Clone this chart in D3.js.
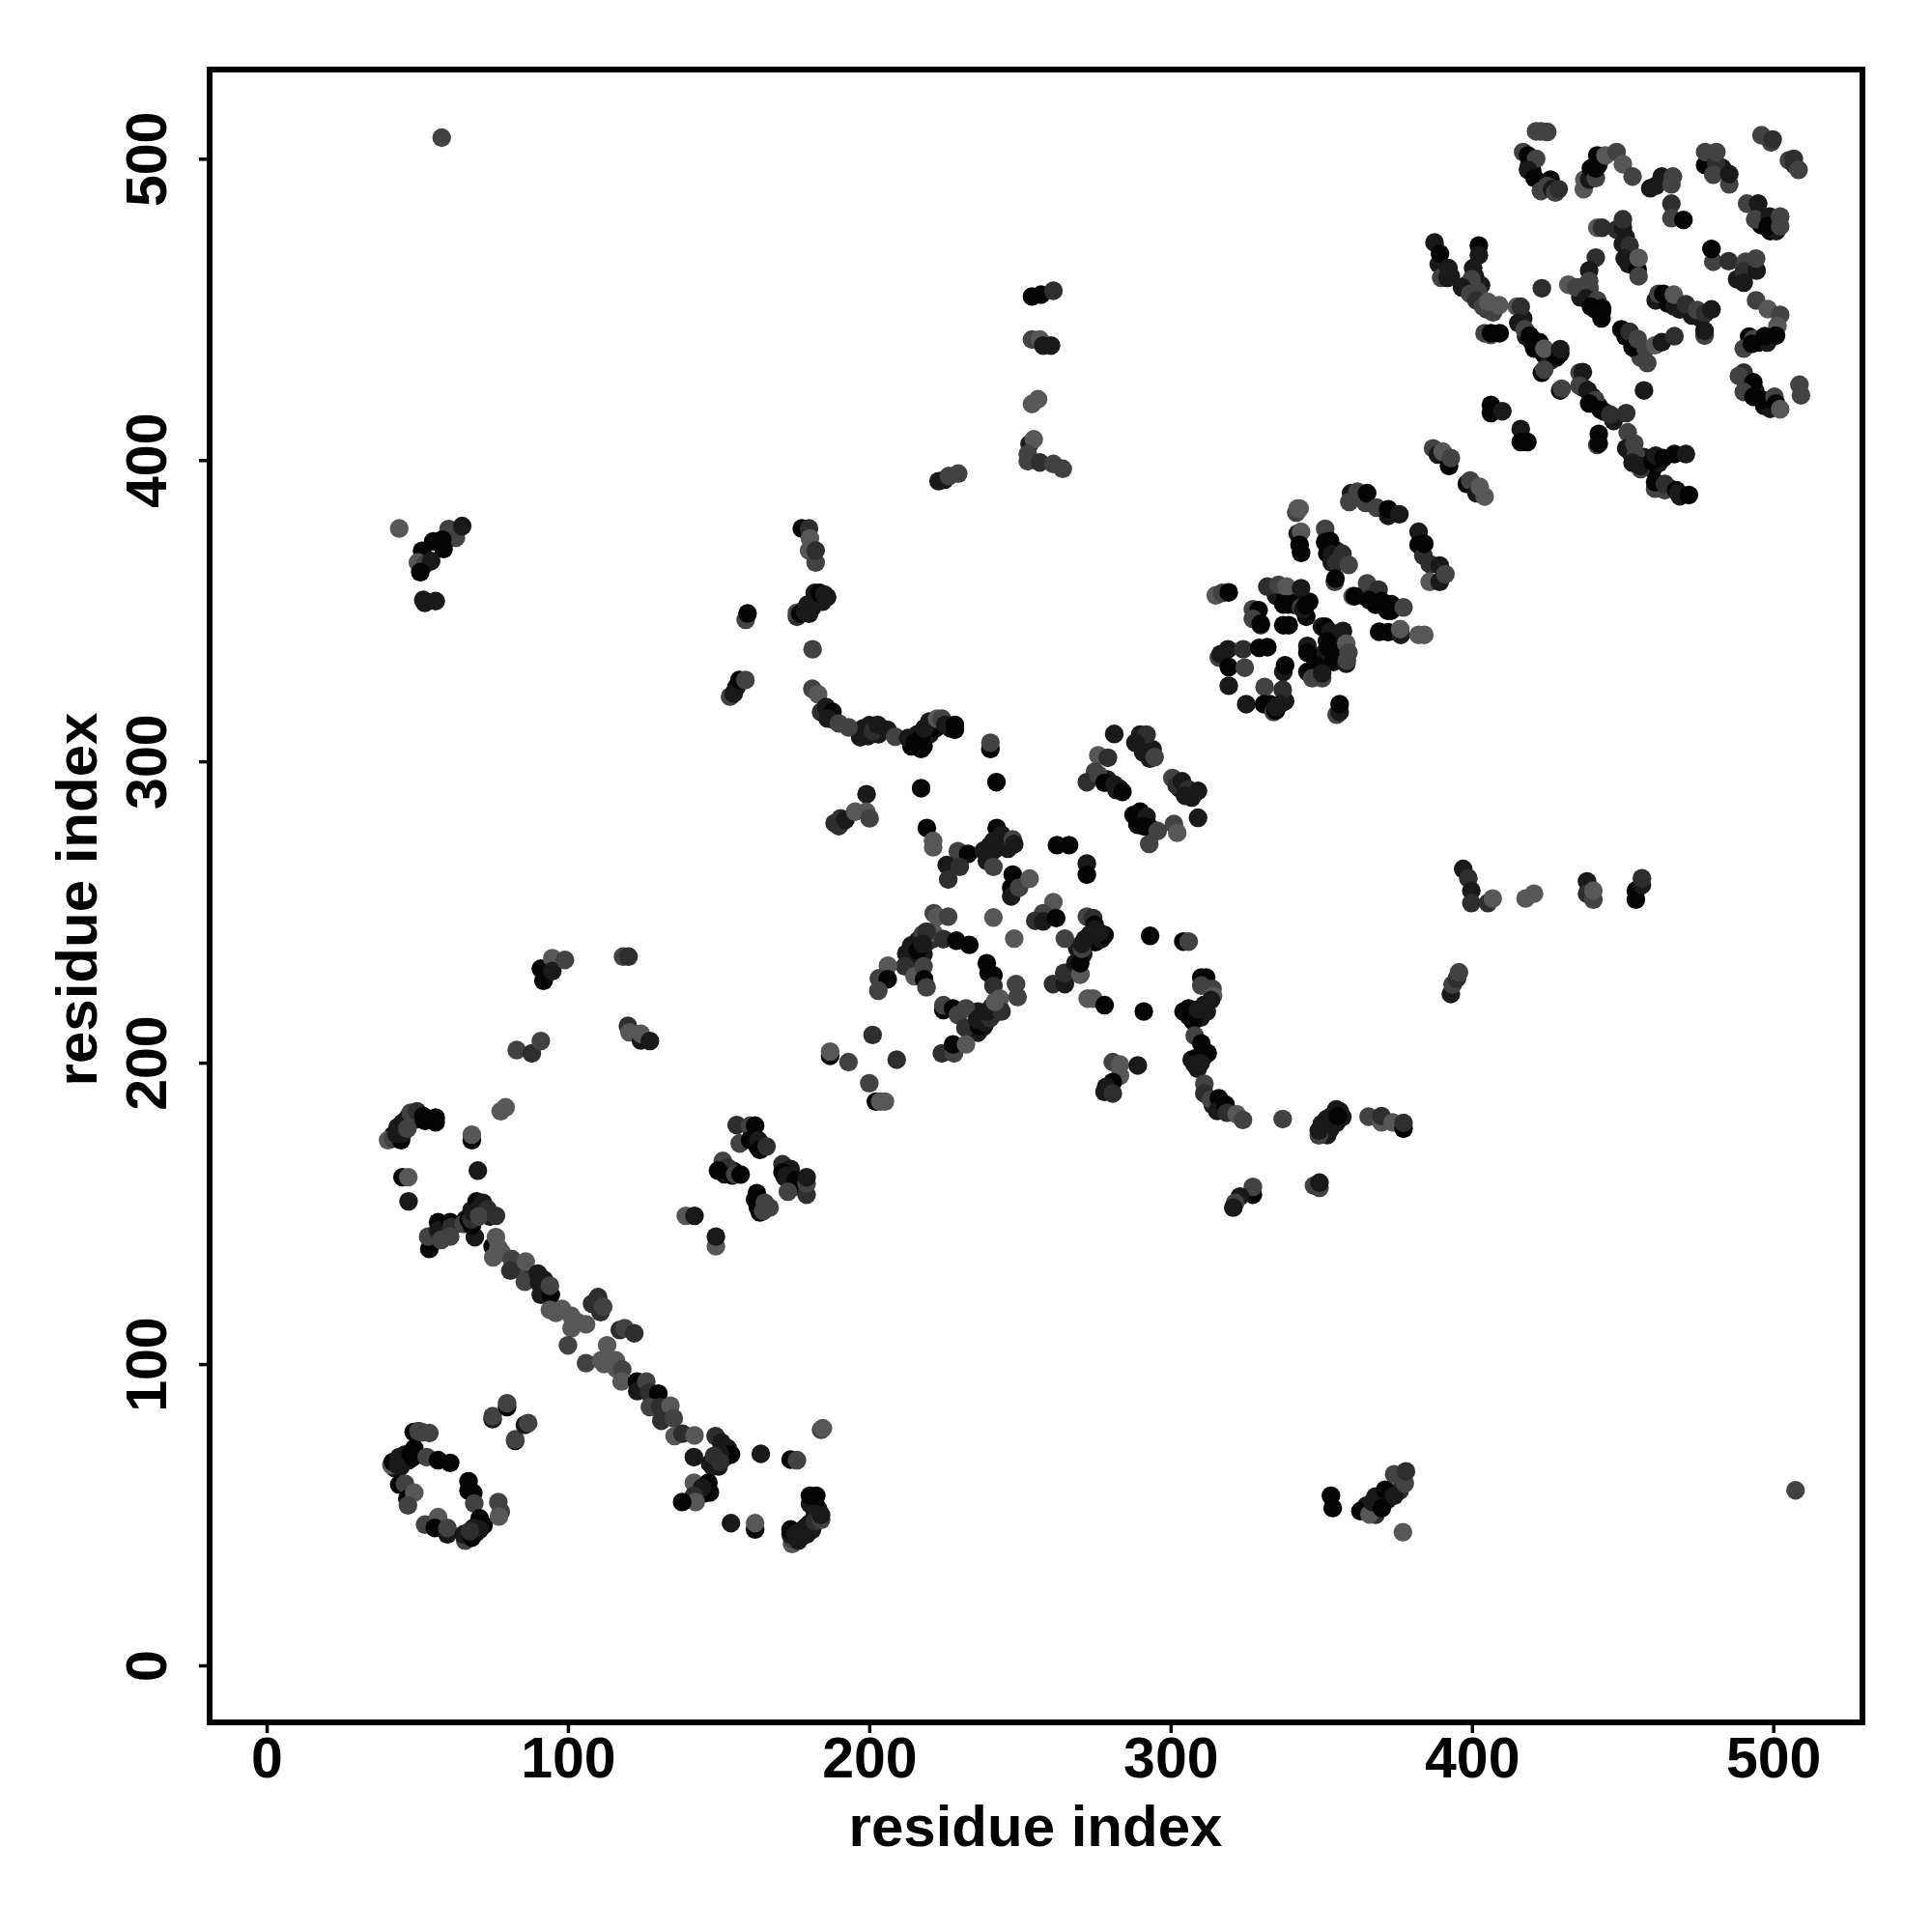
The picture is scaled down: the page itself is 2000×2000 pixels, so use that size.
<!DOCTYPE html>
<html>
<head>
<meta charset="utf-8">
<script src="https://cdnjs.cloudflare.com/ajax/libs/d3/7.8.5/d3.min.js"></script>
<style>
  body { margin: 0; background: #fff; }
  text { font-family: "Liberation Sans", sans-serif; font-weight: bold; fill: #000; }
</style>
</head>
<body>
<svg class="svgChart"></svg>
<script>
var tickValues = [0, 100, 200, 300, 400, 500];
var axisLabel = "residue index";

// contacts: [residue x, residue y, shade level 0 (black) .. 5 (light)]
// the ones hidden inside the dense blobs, drawn first
var packedContacts = [
[42.5,65.5,1],[44.5,66,1],[46,70,1],[47,68,1],[49,72,0],[66.5,43,1],[69.5,44,1],[71,47,1],[72,46.5,0],
[176,348,2],[178,350,1],[179.5,352,1],[181,351,1],[183,353,1],[184.5,353,1],[186,354.5,1],[197,308,1],[198,311,1],[200,312,1],[203,309,1],[204,311,1],[214,305,0],[216,309,1],[218,305,0],[220,309,1],[222,311,0],[227,311,0],[186,316,1],[188,314,1],
[175,42,1],[176,43,1],[178,43,1],[179,46,1],[181,45,1],[182,50,1],[183,52,1],[182,54,0],[148,66,1],[150,66,1],[152,69,1],[153,72,1],[151,72,1],[145,57,0],[146,59,1],
[78,137,4],[83,132,3],[88,129,2],[92,124,1],[92,128,1],[96,117,4],[103,114,4],[108,120,2],[112,100,4],[125,92,1],[128,88,2],[133,84,2],
[42,176,1],[45,180,1],[47,182,1],[49,181,1],[54,181,0],[66,148,1],[68,151,1],[70,153,1],[72,150,1],[74,149,1],[58,145,1],[60,145,1],[62,146,1],
[161,176,0],[163,172,0],[152,163,1],[155,164,0],[172,162,1],[174,162,0],[176,159,1],[163,152,0],[165,152,1],
[214,235,1],[216,234,1],[218,236,1],[219,240,1],[221,241,2],[215,231,1],[213,233,1],[236,217,1],[236,210,1],[238,212,1],[241,216,1],[243,219,2],[269,238,1],[271,236,1],[273,240,1],[275,240,0],[277,241,1],[243,276,1],[245,273,1],[240,272,1],[242,271,1],[239,267,1],[246,271,1],
[306,218,0],[308,216,1],[310,215,1],[312,217,1],[307,201,1],[309,198,1],[311,202,1],[314,186,1],[317,185,1],[351,178,1],[353,178,1],[355,180,1],[357,182,1],[352,176,1],[365,53,1],[368,56,1],[372,55,1],[376,58,2],[368,50,2],
[290,306,0],[292,304,1],[294,304,1],[283,291,1],[279,294,1],[303,291,1],[307,288,1],[289,279,0],[292,280,0],[295,277,1],[355,370,1],[356,367,1],[352,369,0],[364,355,1],[368,352,0],[372,350,0],[343,353,1],[341,352,0],[335,355,1],[338,355,0],[346,353,0],[345,348,0],[353,341,0],[356,337,0],[355,341,1],[351,336,1],[352,333,1],[354,333,0],[348,332,0],[335,317,1],[333,319,0],[338,320,1],
[389,465,1],[393,461,1],[401,461,1],[403,458,1],[405,450,2],[407,449,3],[398,458,2],[402,456,3],[418,441,1],[420,439,0],[424,435,0],[426,433,1],[428,434,0],[417,447,1],[437,424,0],[440,421,1],[442,418,0],[444,416,1],[447,413,1],[453,402,1],[455,400,0],[457,401,1],[460,397,0],[462,399,1],[465,391,0],[469,388,1],[456,397,3],[464,390,3],
[441,450,0],[436,454,1],[439,457,3],[443,447,0],[451,441,0],[454,437,0],[456,434,3],[461,453,1],[465,452,0],[469,450,1],[473,448,1],[476,447,1],[451,474,1],[452,465,1],[453,467,0],[488,460,1],[492,441,0],[495,439,0],[498,439,1],[491,424,1],[494,423,1],[497,418,0],[499,417,1],[419,498,1],[420,496,0],[423,492,0],[424,490,1],[440,495,0],[442,498,1],[479,500,1],[483,497,1],[496,478,0],[499,476,0],[501,476,1]
];
var ringLower = [
[50.4,77.7,0],[48.8,77.4,0],[50.4,77.7,3],[51.5,77.4,3],[54,77.1,3],[41.4,66.5,4],[41.9,67.5,0],[44,69.1,1],[43.5,66.5,1],[45.6,68.1,1],[47.8,70.2,0],[48.5,69,0],[53.1,69.1,3],[56.9,68.1,0],[60.9,67.2,0],
[44,60,0],[45.9,60.3,3],[46.7,55.2,0],[49,57.3,4],[46.9,53.1,3],[67,61.1,0],[68.6,57.2,0],[67,58,0],[68.9,53.7,3],[70.7,48.8,0],[76.9,54.2,3],[77.7,51,3],[77.1,49.4,4],[52.6,46.7,3],[56.9,49.2,4],[55.8,45.6,0],[60,43.5,1],[60,45.6,3],
[65.9,41.4,3],[65.4,43.5,1],[68.1,42.4,0],[68.6,45.6,1],[70.7,45.1,1],[67.5,44.5,2],
[75,81.7,1],[75,82.7,3],[79.8,85.7,0],[79.8,87,3],[82.5,74.5,1],[82.5,75,3],[85.7,79.8,1],[86.8,80.4,3]
];
var bridge = [
[75,139,0],[76.1,142.1,4],[76.9,138.6,4],[75.2,135.4,4],[81.4,134.8,3],[80.9,131,2],[86,134,4],[85.7,127.3,3],[90,130,1],[90.5,126.8,1],[91,123,1],[94.3,123,0],[94,126,3],[94,118,4],[98,118.3,4],[101,116.1,4],[106,113.2,4],[101.2,111.9,4],[100,106.2,3],[106,100.3,3],
[111,101.2,4],[113,106.2,4],[115.9,101.2,4],[116,98.5,4],[118,98.2,3],[117.8,94.2,4],[110,122.2,2],[110.8,117.2,2],[111.7,119,3],[117.2,111.3,2],[118.8,111.9,3],[122,110.2,2],[122.9,94.2,0],[123,91,1],[126,94.2,3],[126.9,90.5,2],[130,90.2,0],[127.2,85.7,3],[130.6,85.7,2],[134,86.2,4],
[131,81.2,2],[135.1,82,3],[135.4,76.1,4],[138,76.9,2],[142,76.3,4],[141.8,69.1,1],[149,76.1,2],[150.9,74,1],[152.5,72.3,1],[154.1,70,0],[147.2,67,3],[147.2,67,1],[148.8,68.6,1],[150.4,70.2,1],[148.5,69.5,2],[150.5,67.5,2],
[164,70.2,1],[173.9,68.3,0],[176,68.1,3],[184,78.2,3],[184.6,78.7,4],[141.8,60.6,4],[146.6,60.6,0],[147.1,57.4,0],[144.5,59,1],[141.8,56.3,2],[142.4,54.2,4],[137.9,54.2,0],[154.1,47.2,1],[162.1,45.1,0],[162.1,47.2,4],
[174.4,40.3,4],[174.4,41.9,3],[173.9,43.5,1],[173.9,45.1,0],[175.5,43.5,1],[176.5,41.4,1],[177,44.6,1],[178.7,45.6,1],[179.2,43.5,1],[180.3,47.2,1],[181.9,47.8,2],[184,48.3,3],[184,49.9,1],[180.3,53.6,1],[180.3,56.3,0],[182.4,56.3,0]
];
var upperLeft = [
[58.1,507,3],[44,377.3,4],[60.4,377.1,3],[62.8,374.2,3],[64.9,378.1,1],[58.3,373.6,0],[55.3,373,0],[58.7,370.5,0],[51.6,369.9,0],[50.2,366,4],[52.6,365.4,3],[54.6,366.5,1],[51,362.8,0],[52,353.6,1],[52.5,352.6,1],[56.1,353.2,1],
[159,347,3],[159.6,349.1,0],[153.8,321.5,3],[155,322.5,1],[155.9,324.6,1],[156.9,327,0],[158.9,327,3]
];
var foldLeft = [
[91.9,227.2,0],[91,231.2,0],[94.8,234.7,4],[94.8,230.4,1],[99,234.1,3],[118.3,235.2,3],[120.1,235.2,2],[119.9,212.2,2],[120.4,210.1,4],[124.2,207.4,1],[124.2,209.6,4],[127.2,207.2,1],[83,204.2,3],[88,203.1,2],[91,207.2,3],[187,202.3,0],[187,203.7,4],[193.1,200.2,3],
[77.7,183.9,4],[79.3,185.2,4],[40.3,174.3,4],[41.9,174.8,3],[44.6,174.3,0],[43,176.4,1],[45.1,176.4,1],[43.5,178.6,1],[44.6,178.6,1],[46.2,180.7,1],[46.7,178.1,3],[47.8,183.4,3],[49.9,183.9,2],[52,182.3,0],[52.6,180.7,0],[56.1,180.2,0],[56.1,181.8,0],
[45.1,162,0],[47,162,4],[47.1,154,1],[68.1,174.3,0],[68.1,176.1,4],[70.1,164.2,1],[54,138.2,0],[53.6,142.3,3],[56.9,147.1,0],[56.9,144.4,1],[57.9,141.2,3],[60.9,147.1,0],[61.3,145.5,2],[60.9,142.3,3],[69.1,142.1,1],[65.4,146.5,3],[67,148.1,0],[68.1,146,0],
[68,148,2],[69.7,154,0],[70.2,151.3,1],[68.6,150.3,1],[71.8,153.5,1],[73.4,151.3,2],[70.5,149,3],[76.1,149.2,2],
[156,179.3,2],[160.5,179.1,3],[162.1,179.1,0],[157,173.2,3],[160.5,174.3,0],[163.2,174.3,1],[163.7,171.1,0],[165.9,172.2,2],[151.4,167.4,3],[153,165.2,2],[149.8,164.2,0],[154.6,162.6,0],[155.5,163,3],[157.3,162.9,0],
[171.2,166.3,2],[173.9,164.7,1],[171.2,163.6,0],[172.5,162.5,1],[175.5,161,0],[179.2,156.2,2],[179.2,159.9,3],[179.2,162,1],[173,157.2,3],[162.7,156.7,0],[162.1,154.6,0],[163.7,150.3,0],[164.8,150.8,3],[165.3,153.5,3],[166.9,151.9,3],[139.1,149.2,4],[142,149.2,1],[149.1,139.1,4],[149.1,142.3,1]
];
var arcCentre = [
[177.6,377.3,0],[180,377.3,2],[180.3,374,4],[180,370,4],[182.2,366,3],[182.2,370,2],[176,349.3,3],[177.1,349,0],[178.7,349.5,1],[180,349,1],[180.3,351.1,1],[181.4,353.2,1],[181.9,355.9,1],[183.5,355.9,0],[185.1,355.4,1],
[181.2,337.2,3],[181.1,324.1,3],[183,322.3,4],[184,316.4,2],[185.7,318,1],[187.8,316.4,0],[186.2,314.2,1],[189.9,312.6,3],[193.1,311.3,3],[199.6,308.4,1],[199.6,310,1],[201.2,310,2],[202.8,312.1,1],[206,310.5,1],[208.6,308.2,3],[212.9,307.8,1],
[217.2,304.1,0],[215.1,306.2,0],[217.2,307.8,0],[218.3,311,1],[219.9,313.2,1],[222.5,314.2,4],[224.1,314.2,3],[225.2,312.1,1],[228.4,310.5,0],[228.4,312.1,0],[240.2,304.1,0],[240.2,306.2,3],[242.2,293.1,0],[217.2,291.1,0],[199.1,289.1,1],
[188.5,279.5,2],[189.9,278.5,2],[190.5,281.1,2],[192.1,280.6,1],[195.3,283.3,4],[199,283.3,4],[200.1,281.1,3],
[223,393,1],[225,393.5,1],[226.4,394.7,3],[229.5,395.5,3],[254,454.3,0],[257,454.9,0],[261.1,456.2,2],[254,440,3],[256.6,440,4],[257.7,438,1],[260.3,438,1],[254,418.6,4],[256,420.2,4],[253.2,405.3,1],[254.6,406.9,4],[252.6,399.6,3],[252.6,402,3],[256.6,399.2,2],[261.1,398.7,3],[264.2,397.1,3]
];
var ringMiddle = [
[219.1,277.9,0],[221.2,273.6,4],[221.2,271.5,4],[229.4,270.2,3],[232.8,269.3,0],[225.7,265.6,1],[230,265,2],[226.2,260.8,2],[242.3,277.9,0],[243.9,275.7,1],[241.2,273.6,1],[238,270.4,1],[240.1,269.3,1],[247.6,274.1,3],[248.1,272.5,1],[241.2,265,3],[247.6,262.4,0],[247.1,258.1,0],[247.1,255.2,1],[249.7,258.1,3],[253.2,261.1,4],[262.3,272.2,0],[266.3,272.2,0],[272.2,266.1,1],[272.2,262.4,0],
[261.1,253.3,4],[257.7,249.6,3],[255.1,247.1,2],[257.7,246.9,1],[262,248,0],[241.2,248.2,4],[248.1,241.2,4],[264.9,241.2,3],[293.2,242.1,0],[304.2,240.2,0],[306,240.2,3],
[221.4,249.6,3],[222.5,248.5,4],[226.2,248.5,3],[221.2,243.2,4],[216.1,240.5,1],[217.7,242.6,3],[219,243.5,2],[213.9,238.9,1],[212.3,236.2,1],[211.8,232,2],[224.6,241,2],[228.9,240.5,0],[233.2,239.1,0],[216.1,237.3,0],[217.7,239.4,1],[206.2,232.2,4],[203.2,228,3],[206.1,227.7,0],[203,223.9,3],[215,228.7,4],[218,232,3],[218.2,227.7,0],[219,225,3],
[239,233,0],[239.6,229.8,0],[241.2,229,0],[241.2,225.5,2],[248.7,226.1,3],[249.2,221.8,3],[243.3,221.3,4],[224.6,217.5,0],[224.6,219.1,3],[227.8,218,0],[229.4,215.9,3],[232.1,218,3],[231.9,211.6,2],[236.4,212.2,0],[235.8,214.3,1],[238.5,213.2,1],[237.4,215.9,1],[240.1,214.8,2],[239,217,1],[240.7,218.6,1],[243.9,217,2],[241.7,220.2,4],
[224.1,203.1,2],[228.1,203.1,3],[227.8,206.1,0],[232.1,206.1,4],[201.1,209.2,2],[209.1,201,2],[200,193.2,3],[202.2,187.1,0],[203.6,187.1,4],[205.2,187.1,4],
[261,226.1,2],[264.9,226.1,1],[264.7,229.8,2],[268.4,233,1],[270,229.3,0],[270,229.3,4],[270,233,0],[272.2,248.5,3],[274.3,248,2],[274.8,245.8,0],[278.1,242.4,0],[276.4,243.2,1],[270.6,237.8,3],[270.6,239.4,1],[271.6,241,1],[273.2,242.6,1],[274.8,244.2,1],[272.5,221.3,4],[274.3,221.3,4],[278.1,219.1,0],[291.1,217,0]
];
var columnS = [
[310.2,228.3,0],[311.8,228.3,0],[310.2,225.6,3],[313.9,224.5,3],[314.1,222.2,4],[304.3,217,0],[306,215.5,0],[307.5,213.8,0],[309.1,217.6,1],[311.2,219.2,1],[313.4,220.8,1],[308,209,3],[310.2,206.4,0],[312.3,203.2,0],[308.6,201.6,0],[308,199.4,1],[310,200,1],
[311.2,193,3],[311.2,189.8,2],[313.4,187.7,3],[316,188.2,0],[315.5,184,1],[318.2,186.1,0],[318.7,183.4,2],[321.9,182.9,4],[324,181,3],[337.2,181.3,3],[349.2,175.9,3],[349.2,177.5,1],[350.2,179.7,1],[351.8,181.3,1],[353.4,182.3,1],[355,184.5,1],[356.1,183.9,1],[355.5,182.3,0],
[365.7,182.1,3],[370,180.2,4],[370,182.3,2],[373.7,180.2,4],[377.3,178.1,0],[377.3,180,2],[280.8,200.2,3],[283.2,195.7,4],[283.2,199.4,4],[289.1,199.1,1],[280.8,193.6,0],[278.6,192,1],[278.1,190.3,1],[280.8,189.8,2],
[327.3,156.2,0],[327.3,158.8,3],[323,155.6,1],[321.4,153.5,3],[320.8,151.9,1],[347.6,159.2,3],[349.4,158.5,3],[349.4,160.2,1],
[353.2,56.3,0],[353.8,52.2,0],[363,51.2,0],[366,50.1,4],[367,54.2,1],[370.1,52.2,0],[371.2,58.3,0],[374.2,56.3,1],[374.2,63.4,3],[377.7,60.4,3],[378.1,64.4,2],[377.1,44.2,4],[507.4,58.1,3]
];
var blockUpper = [
[281.3,309.1,1],[289.9,308.9,1],[292,308.9,2],[288.3,306.2,1],[290.9,303,1],[293.1,300.9,1],[294.7,301.4,3],[276,302,4],[279.2,301.2,2],[274.9,296.6,3],[272.2,293.1,2],[276,295.6,3],[278.1,292.9,0],[281.3,292.3,1],[282,290.5,1],[284,289.9,0],
[300.6,294.5,3],[302,292,2],[303.8,293.4,1],[305.9,290.7,2],[304.8,288.6,1],[309.1,290.2,1],[309.1,281.3,1],[287.7,282.2,0],[289.9,283.3,0],[292,281.7,1],[290.9,278.5,0],[293,278,0],[295.7,276.9,3],[301.1,279.2,3],[302.2,276.3,4],[292.9,272.6,3],
[341.7,382.6,3],[342.2,383.9,4],[342.8,383.9,4],[342.2,375.6,1],[343.3,376.2,4],[342.8,371.9,0],[343.3,369.2,0],[351.3,377.2,3],[352.9,373.2,0],[351.3,372.8,0],[353.5,368.7,1],[353.5,366,1],[355.1,366,2],[357,368.9,2],[359.1,365.2,3],[354.5,359.6,3],[354.7,360.7,0],
[359.9,389,1],[359.3,386.1,3],[362,389.5,3],[364.7,385.8,3],[365.2,389,0],[368.4,384.2,3],[372.2,381.5,1],[372.2,383.7,0],[375.9,382,1],[382.3,376.2,1],[382.3,371.9,0],[383.9,368.2,2],[384.2,372.2,0],[386,365.5,2],[389.3,365,1],[386,359.6,4],[389.3,359.6,1],[391.2,362.1,3],
[365.2,359.1,3],[360.4,354.8,4],[361.1,354.8,0],[369,357,2],[366.3,354.3,2],[366,353.5,0],[370,353.2,0],[373.2,352.2,0],[373.2,350,0],[377.3,351.1,3],[369.2,343,0],[372.2,342.9,0],[376.4,342,1],[376.2,343.9,4],[382.3,342,4],[384.2,342,4],
[315,355.1,4],[317.1,355.9,3],[319.3,356.1,0],[332.1,358,2],[335.8,358.6,3],[338.5,358,4],[343.3,357.5,1],[337.4,352.1,0],[339,352.1,0],[343.3,351.1,3],[344,350.5,1],[344.9,351.8,0],[327.3,350.5,3],[329.2,350.2,0],[327.3,347.3,3],[329.9,345.2,2],[329.9,345.7,0],[337.4,345.2,0],[339.2,345.2,0],
[350.2,344.7,1],[351.3,344.7,0],[357.2,343.3,1],[352.9,343,1],[351.9,339.9,0],[345.4,338.3,1],[345.4,336.1,0],[352.4,337.7,0],[355,336,0],[358.3,339.1,4],[358.3,332.4,1],[358.5,333.5,3],[359,336.1,3],
[316,334.5,3],[316.6,335.6,1],[319,337.2,1],[319.3,331.3,0],[324.1,337.2,2],[324.6,331.1,3],[329.4,337.7,0],[332.1,337.9,0],[337.4,329.7,1],[338,331.9,0],[345.4,329.7,1],[346,329.5,0],[347,327.6,3],[350.3,327.6,3],[350.3,329.2,1],[319.3,325.1,1],[331.2,324.7,3],[337.2,323.8,2],
[325.1,319,1],[331,319,0],[334.2,316.4,3],[334.8,316.9,0],[335,318,1],[336.4,319,1],[355.1,315.5,3],[356.1,316.4,1],[356.1,319,0]
];
var blockTop = [
[421.3,509.1,3],[422.9,509.1,3],[425,508.9,3],[417,502.2,3],[418.6,501.1,0],[421.3,500,3],[418.6,496.3,1],[420.8,493.6,0],[422.9,489.3,3],[426.1,493.1,0],[425,491,3],[426.6,489.9,1],[427.7,488.8,3],[428.8,489.9,2],
[437.1,489.9,4],[437.3,493.1,4],[438.9,493.1,1],[439.5,496.8,0],[441.1,493.6,3],[441.1,496.8,0],[441.6,501.1,0],[444.3,501.1,4],[448,502.2,3],[450.1,498.2,4],[453.3,494.1,3],[459.2,490.2,1],[461,491,1],[463,494.1,1],[466.2,491.5,3],[466.7,494.1,3],[466.2,485.1,2],[466.2,480.3,3],[470.2,479.7,0],
[477.4,497.9,0],[477.4,502.2,3],[481.1,498.4,2],[481.1,502.2,3],[480.1,494.7,3],[485.4,491.5,3],[485.4,494.9,1],[496.1,507.8,3],[499.3,505.4,3],[499.8,506.4,2],[505.2,499.5,3],[506.8,500,2],[507,498,2],[508.4,496.3,3],
[491.3,485.1,3],[495,485.1,1],[494,479.9,3],[498.8,480.8,1],[498.2,477.6,0],[502.3,480.8,3],[502.3,477.6,3],[441.6,477.1,4],[443.2,477.1,2],[448,476.5,2],[450.1,477.1,1],[450.1,479.9,2],[450.1,471.7,1],[452.3,471.2,2],[450.7,466.9,1],[455,463.2,0],[455.3,461,3],[455.3,467.1,4],
[441.1,467.2,2],[438.9,462.9,1],[432,458.2,4],[434.6,457.3,3],[436.2,457.3,3],[438.9,459.4,3],[437.9,453.6,1],[441.6,453,3],[439.5,450.9,0],[443.2,450.4,0],[443.2,449.5,0],[423.2,457,2],
[480.1,465.8,3],[479.5,470.1,0],[485.2,466,2],[490.8,465.8,3],[490.2,462.6,2],[490.2,458.9,1],[494.5,462.9,1],[494.3,466.9,3],[461.9,455.2,3],[463.5,455.2,0],[467.2,450.9,1],[467,454.9,4],[471,451.7,2],[474.7,449.8,3],[477.4,448.7,2],[479.5,450,1],[477.2,441.3,3],[477.2,442.9,1],
[494.3,453,3],[498.2,450.1,4],[502.3,448.2,3],[501.4,444.5,4],[490.2,437,3],[493.4,440.2,3],[492.9,438.6,0],[497.2,441.1,0],[500.9,441.3,0],[449.6,443.4,0],[452.3,442.6,2],[453.3,437.5,0],[455,440.2,3],[457.6,437,3],[458.2,432.2,3],[460.8,438.1,4],[463,439.1,1],[467.2,441.1,2],
[387.6,472.2,1],[389.4,468.5,0],[389.8,460.5,3],[391.9,460.5,1],[392.2,463.7,1],[402.3,471.2,0],[402.3,468,1],[400.4,463.7,1],[399.9,460,3],[396.7,457.3,1],[399.4,455.2,3],[401.5,453,2],[403.7,450.9,3],[405.3,452.5,4],[409,451.4,4],[414.9,450.9,4],[416.2,450.9,2],
[404.2,442.1,3],[406.3,441.5,4],[406.3,442.1,0],[409.2,442.1,0],[415.4,445.5,1],[417.5,443.4,3],[419.2,441.3,0],[422.4,439.1,0],[420.7,437,0],[424,437,4],[429.3,435.4,0],[429.3,436.8,1],[423.2,429,0],[424,430,3],[435.7,429,3],[436.8,429.2,1],
[429.3,423.1,0],[429.8,423.7,3],[435.7,424.7,3],[438.4,423.1,1],[441,419.9,3],[438.9,418.8,0],[442.7,416.7,0],[445.9,415.1,2],[451.2,415.6,2],[457.1,423.1,1],[406.3,415.6,0],[406.3,418.3,0],[410.1,416.2,1],[416.2,410.3,1],[416.2,406,0],[418.4,406,0],
[441.6,405,3],[442.1,408.7,0],[442.1,405.5,0],[451.7,409.2,3],[451.2,403.9,1],[453.9,405.5,3],[454.4,401.8,3],[453.3,399.1,1],[456,398,1],[459.8,399.6,0],[461,401.5,1],[463.5,400.7,0],[467.2,402,0],[471,402,1],
[460.8,390.5,3],[460.8,392.7,0],[464,392.1,2],[467.8,390,0],[468.5,389,1],[472,388.4,0],[490.2,429,2],[488.6,427.9,3],[493.4,425.8,0],[490.2,422.6,3],[493.4,421,0],[496.6,419.9,0],[500.4,421,3],[500.9,418.8,0],[502.3,416.9,4],[509.2,421.5,3],[508.7,425,3],
[387.1,403.9,3],[388.7,401.8,1],[390.3,402.8,4],[392.4,398,0],[393,400.7,3],[398.3,392.1,0],[399.4,393.2,3],[401.5,389,1],[402.6,391.1,4],[404.2,387.9,4],
[397.1,264.3,1],[398.8,261.2,2],[399.8,257.1,1],[399.8,253,2],[405.3,253,2],[406.9,254.5,4],[417.8,254.5,4],[420.6,256.1,4],[438.2,260.2,1],[438.2,256.1,2],[440.3,254.1,3],[440.3,257.1,4],[454.4,254.1,0],[454.4,257.1,0],[456.4,259,1],[456.4,261.2,2],
[393,222.8,1],[393.6,225.9,3],[395,228,2],[395.7,230,3]
];

var contacts = packedContacts.concat(ringLower, bridge, upperLeft, foldLeft, arcCentre, ringMiddle, columnS, blockUpper, blockTop);

var width = 2000, height = 2000;
var svg = d3.select(".svgChart").attr("width", width).attr("height", height);

var x = d3.scaleLinear().domain([-18.92, 529.6]).range([217, 1928]);
var y = d3.scaleLinear().domain([-18.92, 529.6]).range([1783, 72]);
var shade = d3.scaleLinear().domain([0, 5]).range(["#040404", "#6c6c6c"]);

svg.selectAll("circle")
  .data(contacts)
  .enter().append("circle")
  .attr("cx", function (d) { return x(d[0]); })
  .attr("cy", function (d) { return y(d[1]); })
  .attr("r", 9.7)
  .attr("fill", function (d) { return shade(d[2]); });

// Axes
var xAxis = d3.axisBottom(x).tickValues(tickValues).tickSize(11).tickPadding(8);
var yAxis = d3.axisLeft(y).tickValues(tickValues).tickSize(11).tickPadding(0);

var gx = svg.append("g").attr("transform", "translate(0,1783)").call(xAxis);
var gy = svg.append("g").attr("transform", "translate(217,0)").call(yAxis);

gx.selectAll(".domain").remove();
gy.selectAll(".domain").remove();
svg.selectAll(".tick line").attr("stroke", "#000").attr("stroke-width", 3.5);

gx.selectAll("text").attr("font-size", 59).attr("y", 0).attr("dy", 0)
  .attr("transform", "translate(0,57)");
gy.selectAll("text").attr("font-size", 59).attr("x", 0).attr("dy", 0)
  .attr("text-anchor", "middle")
  .attr("transform", "translate(-45,0) rotate(-90)");

// Frame
svg.append("rect")
  .attr("x", 217).attr("y", 72)
  .attr("width", 1711).attr("height", 1711)
  .attr("fill", "none").attr("stroke", "#000").attr("stroke-width", 6);

svg.append("text")
  .attr("x", 1072).attr("y", 1911)
  .attr("text-anchor", "middle")
  .attr("font-size", 60)
  .text(axisLabel);

svg.append("text")
  .attr("transform", "translate(100,931) rotate(-90)")
  .attr("text-anchor", "middle")
  .attr("font-size", 60)
  .text(axisLabel);
</script>
</body>
</html>
